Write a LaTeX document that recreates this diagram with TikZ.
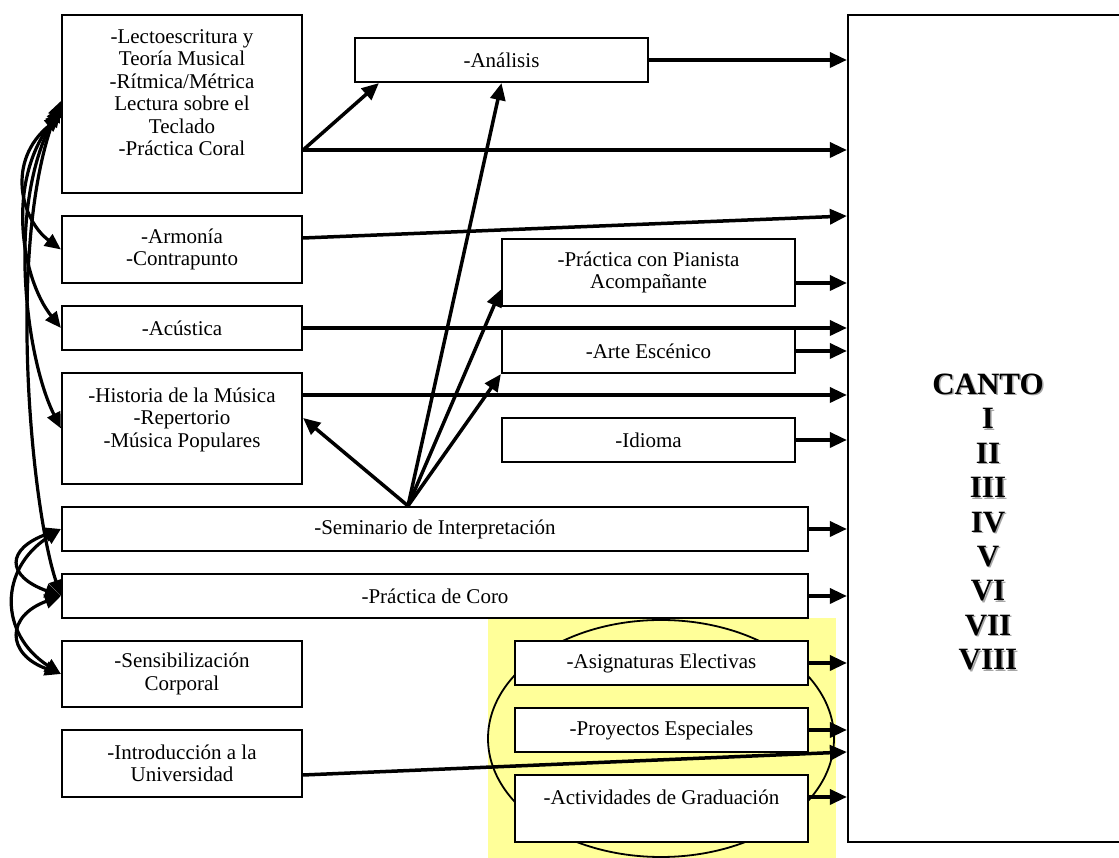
\documentclass[tikz,border=0pt]{standalone}
\usepackage{fontspec}
\setmainfont{Liberation Serif}
\usetikzlibrary{arrows.meta}
\definecolor{paleyellow}{RGB}{255,255,153}
\tikzset{
  box/.style={draw, fill=white, line width=2.2pt, inner sep=0pt, align=center,
    font=\fontsize{21}{22.5}\selectfont},
  arr/.style={line width=3.5pt, -{Triangle[length=17pt,width=15pt]}},
  biarr/.style={line width=3.2pt, {Triangle[length=16pt,width=14pt]}-{Triangle[length=16pt,width=14pt]}},
  cantofont/.style={align=center, inner sep=0pt, font=\fontsize{31}{34.4}\selectfont\bfseries}
}
\begin{document}
\begin{tikzpicture}[x=1pt,y=1pt]
\useasboundingbox (0,0) rectangle (1119,858);
% grupo electivo
\fill[paleyellow] (488,0) rectangle (836,240);
\draw[line width=1.8pt] (661,119.5) ellipse [x radius=173, y radius=118.5];
% columna izquierda
\node[box, minimum width=240pt, minimum height=178pt] (lecto) at (182,754)
  {-Lectoescritura y\\Teoría Musical\\-Rítmica/Métrica\\Lectura sobre el\\Teclado\\-Práctica Coral\\~};
\node[box, minimum width=240pt, minimum height=67pt] (armonia) at (182,608.5) {-Armonía\\-Contrapunto};
\node[box, minimum width=240pt, minimum height=44pt] (acustica) at (182,530) {-Acústica};
\node[box, minimum width=240pt, minimum height=111pt] (historia) at (182,429.5)
  {-Historia de la Música\\-Repertorio\\-Música Populares\\~};
\node[box, minimum width=746pt, minimum height=44pt] (seminario) at (435,329) {-Seminario de Interpretación};
\node[box, minimum width=746pt, minimum height=44pt] (coro) at (435,262) {-Práctica de Coro};
\node[box, minimum width=240pt, minimum height=66pt] (sensib) at (182,184) {-Sensibilización\\Corporal};
\node[box, minimum width=240pt, minimum height=67pt] (intro) at (182,94.5) {-Introducción a la\\Universidad};
% columna central
\node[box, minimum width=293pt, minimum height=44pt] (analisis) at (501.5,798) {-Análisis};
\node[box, minimum width=293pt, minimum height=67pt] (pianista) at (648.5,585.5) {-Práctica con Pianista\\Acompañante};
\node[box, minimum width=293pt, minimum height=44pt] (arte) at (648.5,507) {-Arte Escénico};
\node[box, minimum width=293pt, minimum height=44pt] (idioma) at (648.5,418) {-Idioma};
\node[box, minimum width=293pt, minimum height=44pt] (asign) at (661.5,195) {-Asignaturas Electivas};
\node[box, minimum width=293pt, minimum height=44pt] (proyectos) at (661.5,128) {-Proyectos Especiales};
\node[box, minimum width=293pt, minimum height=67pt] (activ) at (661.5,49.5) {-Actividades de Graduación\\~};
% canto
\node[draw, line width=2.2pt, minimum width=280pt, minimum height=827pt] (canto) at (988,429.5) {};
\node[cantofont, text=black!35] (cantoshadow) at (989.5,334.5) {CANTO\\I\\II\\III\\IV\\V\\VI\\VII\\VIII};
\node[cantofont] (cantotxt) at (988,336) {CANTO\\I\\II\\III\\IV\\V\\VI\\VII\\VIII};
% flechas hacia canto
\draw[arr] (analisis.east) -- (analisis.east -| canto.west);
\draw[arr] ([yshift=-46pt]lecto.east) -- ([yshift=-46pt]lecto.east -| canto.west);
\draw[arr] ([yshift=-46pt]lecto.east) -- ([xshift=25pt]analisis.south west);
\draw[arr] ([yshift=11.5pt]armonia.east) -- (canto.west |- 0,642);
\draw[arr] (acustica.east) -- (acustica.east -| canto.west);
\draw[arr] ([yshift=-10.5pt]pianista.east) -- ([yshift=-10.5pt]pianista.east -| canto.west);
\draw[arr] (arte.east) -- (arte.east -| canto.west);
\draw[arr] ([yshift=33.5pt]historia.east) -- ([yshift=33.5pt]historia.east -| canto.west);
\draw[arr] (idioma.east) -- (idioma.east -| canto.west);
\draw[arr] (seminario.east) -- (seminario.east -| canto.west);
\draw[arr] (coro.east) -- (coro.east -| canto.west);
\draw[arr] (asign.east) -- (asign.east -| canto.west);
\draw[arr] (proyectos.east) -- (proyectos.east -| canto.west);
\draw[arr] ([yshift=-11.5pt]intro.east) -- (canto.west |- 0,106);
\draw[arr] ([yshift=11.5pt]activ.east) -- ([yshift=11.5pt]activ.east -| canto.west);
% flechas desde el seminario
\draw[arr] ([xshift=-27pt]seminario.north) -- (analisis.south);
\draw[arr] ([xshift=-27pt]seminario.north) -- ([yshift=-17pt]pianista.west);
\draw[arr] ([xshift=-27pt]seminario.north) -- (arte.south west);
\draw[arr] ([xshift=-27pt]seminario.north) -- ([yshift=10.5pt]historia.east);
% curvas de la izquierda
\draw[biarr] ([yshift=-12pt]lecto.west) .. controls +(-55,-45) and +(-40,30) .. (armonia.west);
\draw[biarr] ([yshift=-7pt]lecto.west) .. controls +(-55,-70) and +(-40,50) .. (acustica.west);
\draw[biarr] ([yshift=-2pt]lecto.west) .. controls +(-55,-100) and +(-35,70) .. (historia.west);
\draw[biarr] ([yshift=3pt]lecto.west) .. controls +(-55,-140) and +(-30,90) .. (coro.west);
\draw[biarr] (seminario.west) .. controls +(-55,-20) and +(-55,20) .. (coro.west);
\draw[biarr] (coro.west) .. controls +(-55,-20) and +(-55,20) .. (sensib.west);
\draw[biarr] (seminario.west) .. controls +(-62,-40) and +(-62,40) .. (sensib.west);
\end{tikzpicture}
\end{document}
